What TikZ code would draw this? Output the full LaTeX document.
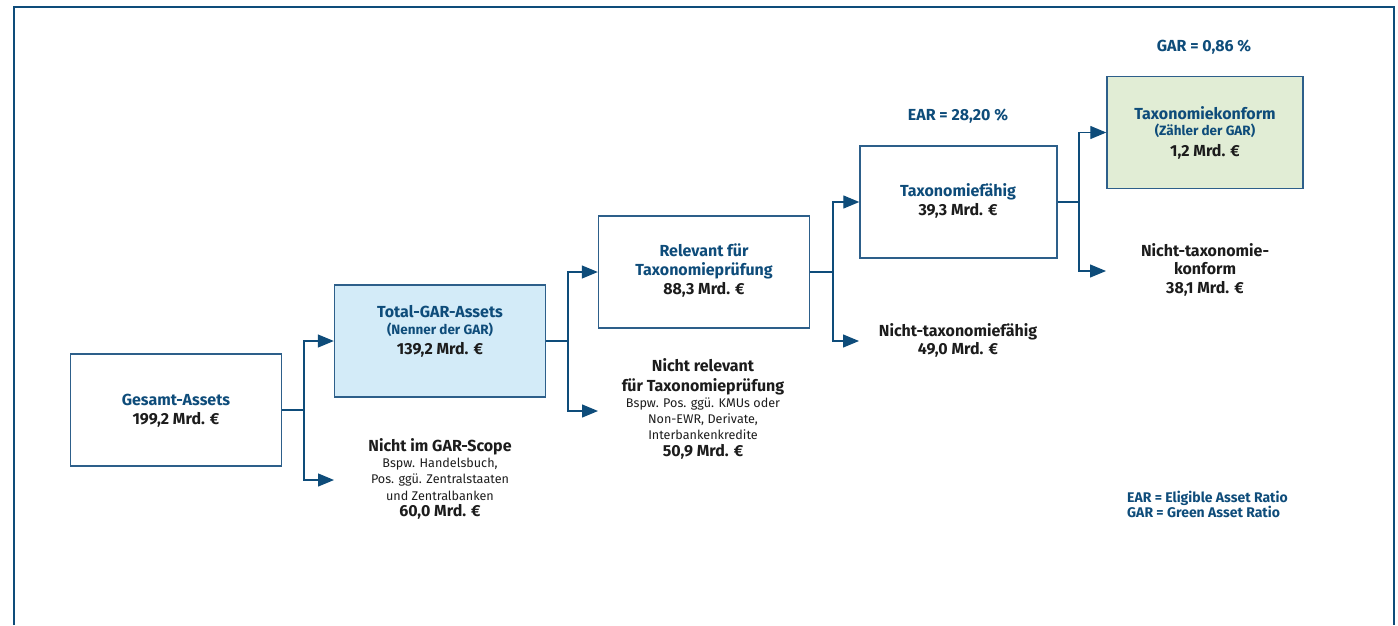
\documentclass[tikz,border=0pt]{standalone}
\usepackage{fontspec}
\setmainfont{Fira Sans}
\usetikzlibrary{arrows.meta}
\definecolor{dblue}{HTML}{0E4C7A}
\definecolor{bblue}{HTML}{2D5F8A}
\definecolor{lblue}{HTML}{D3EBF8}
\definecolor{lgreen}{HTML}{E1EDD5}
\definecolor{tblack}{HTML}{1C1C1C}
\tikzset{
  frame/.style={draw=dblue, line width=2pt},
  box/.style={draw=bblue, line width=1.4pt, rectangle, minimum width=#1, minimum height=112pt, inner sep=0pt},
  box/.default=211pt,
  conn/.style={draw=dblue, line width=1.3pt},
  arr/.style={conn, -{Triangle[length=16pt,width=13pt]}},
  ln/.style={inner sep=0pt, text height=0.7em, text depth=0pt, font=\fontsize{16}{18}\selectfont\bfseries},
  ttl/.style={ln, text=dblue},
  val/.style={ln, text=tblack},
  sub/.style={inner sep=0pt, text height=0.7em, text depth=0pt, font=\fontsize{12.6}{14}\selectfont, text=tblack},
  subb/.style={inner sep=0pt, text height=0.7em, text depth=0pt, font=\fontsize{13.5}{15}\selectfont\bfseries, text=dblue},
  leg/.style={inner sep=0pt, text height=0.7em, text depth=0pt, font=\fontsize{14}{16}\selectfont\bfseries, text=dblue, anchor=west},
}
\begin{document}
\begin{tikzpicture}[x=1pt,y=-1pt]
\useasboundingbox (0,0) rectangle (1398,625);
\draw[frame] (14,625) -- (14,7) -- (1394,7) -- (1394,625);

% boxes
\node[box] (ga) at (176,410) {};
\node[box, fill=lblue] (tga) at (440,341) {};
\node[box] (rel) at (704,272) {};
\node[box, minimum width=197pt] (tf) at (958.5,202) {};
\node[box, minimum width=196pt, fill=lgreen] (tk) at (1205,132.5) {};

% texts
\node[ttl] (ga1) at (176,402) {Gesamt-Assets};
\node[val] (ga2) at (176,421) {199,2 Mrd. €};

\node[ttl] (tga1) at (440,314) {Total-GAR-Assets};
\node[subb] (tga2) at (440,331) {(Nenner der GAR)};
\node[val] (tga3) at (440,351) {139,2 Mrd. €};

\node[val] (ngs1) at (440,448) {Nicht im GAR-Scope};
\node[sub] (ngs2) at (440,464) {Bspw. Handelsbuch,};
\node[sub] (ngs3) at (440,480) {Pos. ggü. Zentralstaaten};
\node[sub] (ngs4) at (440,497) {und Zentralbanken};
\node[val] (ngs5) at (440,513) {60,0 Mrd. €};

\node[ttl] (rel1) at (704,253) {Relevant für};
\node[ttl] (rel2) at (704,272) {Taxonomieprüfung};
\node[val] (rel3) at (704,291) {88,3 Mrd. €};

\node[val] (nr1) at (703,368) {Nicht relevant};
\node[val] (nr2) at (703,388) {für Taxonomieprüfung};
\node[sub] (nr3) at (703,404) {Bspw. Pos. ggü. KMUs oder};
\node[sub] (nr4) at (703,420) {Non-EWR, Derivate,};
\node[sub] (nr5) at (703,436) {Interbankenkredite};
\node[val] (nr6) at (703,453) {50,9 Mrd. €};

\node[ttl] (ear) at (958,117) {EAR = 28,20 \%};
\node[ttl] (tf1) at (958,193) {Taxonomiefähig};
\node[val] (tf2) at (958,212) {39,3 Mrd. €};

\node[val] (ntf1) at (958,333) {Nicht-taxonomiefähig};
\node[val] (ntf2) at (958,351) {49,0 Mrd. €};

\node[ttl] (gar) at (1204,48) {GAR = 0,86 \%};
\node[ttl] (tk1) at (1205,116) {Taxonomiekonform};
\node[subb] (tk2) at (1205,132) {(Zähler der GAR)};
\node[val] (tk3) at (1205,153) {1,2 Mrd. €};

\node[val] (ntk1) at (1205,253) {Nicht-taxonomie-};
\node[val] (ntk2) at (1205,271) {konform};
\node[val] (ntk3) at (1205,290) {38,1 Mrd. €};

\node[leg] (leg1) at (1127,499) {EAR = Eligible Asset Ratio};
\node[leg] (leg2) at (1127,514) {GAR = Green Asset Ratio};

% connectors
\coordinate (j1) at (304,410);
\coordinate (a1) at (334,480);
\draw[conn] (ga.east) -- (j1);
\draw[arr] (j1) |- (tga.west);
\draw[arr] (j1) |- (a1);

\coordinate (j2) at (568,341);
\coordinate (a2) at (598,411);
\draw[conn] (tga.east) -- (j2);
\draw[arr] (j2) |- (rel.west);
\draw[arr] (j2) |- (a2);

\coordinate (j3) at (833,272);
\coordinate (a3) at (859,341);
\draw[conn] (rel.east) -- (j3);
\draw[arr] (j3) |- (tf.west);
\draw[arr] (j3) |- (a3);

\coordinate (j4) at (1079,202);
\coordinate (a4) at (1106,271);
\draw[conn] (tf.east) -- (j4);
\draw[arr] (j4) |- (tk.west);
\draw[arr] (j4) |- (a4);
\end{tikzpicture}
\end{document}
